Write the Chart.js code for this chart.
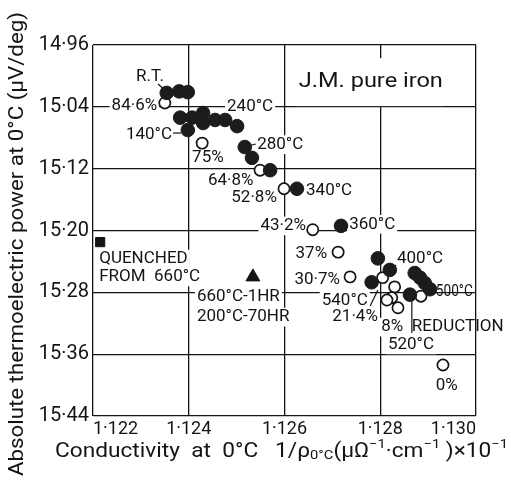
<!DOCTYPE html>
<html>
<head>
<meta charset="utf-8">
<script src="https://cdn.jsdelivr.net/npm/chart.js@4.4.1/dist/chart.umd.min.js"></script>
<style>
  html, body { margin: 0; padding: 0; background: #fff; }
</style>
</head>
<body>
<canvas id="plot" width="511" height="482"></canvas>
<script>
// Absolute thermoelectric power vs conductivity at 0°C - J.M. pure iron

const xTicks = [1.122, 1.124, 1.126, 1.128, 1.130];
const yTicks = [14.96, 15.04, 15.12, 15.20, 15.28, 15.36, 15.44];

// annealed at R.T. ... 540°C (filled circles)
const annealX = [1.12354, 1.12380, 1.12398,
                 1.12382, 1.12407, 1.12398, 1.12430, 1.12430, 1.12455, 1.12476, 1.12501,
                 1.12517, 1.12532, 1.12570,
                 1.12626, 1.12718,
                 1.12795, 1.12820, 1.12782,
                 1.12872, 1.12883, 1.12893, 1.12904, 1.12862];
const annealY = [15.022, 15.020, 15.021,
                 15.054, 15.054, 15.070, 15.048, 15.061, 15.057, 15.057, 15.065,
                 15.092, 15.106, 15.122,
                 15.146, 15.194,
                 15.236, 15.251, 15.267,
                 15.255, 15.261, 15.268, 15.276, 15.283];

// cold reduction 84.6% ... 0% (open circles)
const reducedX = [1.12350, 1.12428, 1.12549, 1.12599, 1.12659, 1.12712, 1.12737,
                  1.12805, 1.12830, 1.12824, 1.12814, 1.12837, 1.12885, 1.12931];
const reducedY = [15.035, 15.087, 15.122, 15.146, 15.199, 15.228, 15.260,
                  15.261, 15.273, 15.287, 15.290, 15.300, 15.285, 15.374];

// quenched from 660°C (square)
const quenchedX = [1.12215];
const quenchedY = [15.215];

// 660°C-1HR + 200°C-70HR (triangle)
const agedX = [1.12534];
const agedY = [15.260];

const FONT = 'Roboto, "DejaVu Sans", sans-serif';
const INK = '#141414';

const zip = (xs, ys) => xs.map((x, i) => ({ x: x, y: ys[i] }));
const dot = v => String(v).replace('.', '·');

// text notes, anchored in data units
const notes = [
  { text: 'R.T.', x: 1.12319, y: 15.001, align: 'center' },
  { text: '84·6%', x: 1.12334, y: 15.038, align: 'right' },
  { text: '240°C', x: 1.12480, y: 15.040 },
  { text: '140°C', x: 1.12365, y: 15.076, align: 'right' },
  { text: '75%', x: 1.12407, y: 15.106 },
  { text: '280°C', x: 1.12543, y: 15.089 },
  { text: '64·8%', x: 1.12440, y: 15.135 },
  { text: '52·8%', x: 1.12584, y: 15.158, align: 'right' },
  { text: '340°C', x: 1.12645, y: 15.148 },
  { text: '43·2%', x: 1.12645, y: 15.194, align: 'right' },
  { text: '360°C', x: 1.12735, y: 15.192 },
  { text: '37%', x: 1.12689, y: 15.230, align: 'right' },
  { text: '30·7%', x: 1.12716, y: 15.264, align: 'right' },
  { text: '400°C', x: 1.12835, y: 15.237 },
  { text: '500°C', x: 1.12916, y: 15.280, size: 16, width: 37, bg: false },
  { text: '540°C', x: 1.12774, y: 15.291, align: 'right' },
  { text: '21·4%', x: 1.12795, y: 15.312, align: 'right' },
  { text: '8%', x: 1.12802, y: 15.325 },
  { text: 'REDUCTION', x: 1.12866, y: 15.325, bg: false },
  { text: '520°C', x: 1.12816, y: 15.348 },
  { text: '0%', x: 1.12939, y: 15.401, align: 'center' },
  { text: 'QUENCHED', x: 1.12213, y: 15.237 },
  { text: 'FROM  660°C', x: 1.12213, y: 15.260 },
  { text: '660°C-1HR', x: 1.12417, y: 15.286 },
  { text: '200°C-70HR', x: 1.12417, y: 15.312 },
  { text: 'J.M. pure iron', x: 1.12630, y: 15.008, size: 20, width: 144, padY: 13 }
];

// short leader strokes
const leaders = [
  [1.12336, 15.0105, 1.12352, 15.0195],
  [1.12367, 15.0739, 1.12384, 15.0739],
  [1.12524, 15.0907, 1.12540, 15.0881],
  [1.12833, 15.2446, 1.12822, 15.2511],
  [1.12779, 15.2977, 1.12795, 15.2770],
  [1.12866, 15.2899, 1.12866, 15.3326]
];

function drawFitted(ctx, text, x, y, size, width, align) {
  ctx.font = size + 'px ' + FONT;
  const w = ctx.measureText(text).width;
  const sx = width ? width / w : 1;
  const ww = w * sx;
  const left = align === 'right' ? x - ww : align === 'center' ? x - ww / 2 : x;
  ctx.save();
  ctx.translate(left, y);
  ctx.scale(sx, 1);
  ctx.textAlign = 'left';
  ctx.fillText(text, 0, 0);
  ctx.restore();
  return { left: left, w: ww };
}

const notesPlugin = {
  id: 'notes',
  beforeDatasetsDraw(chart) {
    const ctx = chart.ctx;
    const sx = chart.scales.x, sy = chart.scales.y;
    ctx.save();
    ctx.textBaseline = 'middle';
    notes.forEach(n => {
      const size = n.size || 17;
      const px = sx.getPixelForValue(n.x), py = sy.getPixelForValue(n.y);
      ctx.font = size + 'px ' + FONT;
      const w = n.width || ctx.measureText(n.text).width;
      const left = n.align === 'right' ? px - w : n.align === 'center' ? px - w / 2 : px;
      if (n.bg !== false) {
        const padY = n.padY || 0;
        ctx.fillStyle = '#fff';
        ctx.fillRect(left - 2, py - size * 0.55 - padY, w + 4, size * 1.1 + padY * 2);
      }
      ctx.fillStyle = INK;
      drawFitted(ctx, n.text, px, py, size, n.width, n.align);
    });
    ctx.strokeStyle = INK;
    ctx.lineWidth = 1.2;
    leaders.forEach(l => {
      ctx.beginPath();
      ctx.moveTo(sx.getPixelForValue(l[0]), sy.getPixelForValue(l[1]));
      ctx.lineTo(sx.getPixelForValue(l[2]), sy.getPixelForValue(l[3]));
      ctx.stroke();
    });
    ctx.restore();
  },
  afterDraw(chart) {
    const ctx = chart.ctx;
    ctx.save();
    ctx.fillStyle = INK;
    ctx.textBaseline = 'middle';

    // y title, rotated
    ctx.save();
    ctx.translate(18, 244);
    ctx.rotate(-Math.PI / 2);
    drawFitted(ctx, 'Absolute thermoelectric power at 0°C (μV/deg)', 0, 0, 20, 464, 'center');
    ctx.restore();

    // x title with sub/superscripts
    const parts = [
      ['Conductivity  at  0°C   1/ρ', 0], ['0°C', 1], ['(μΩ', 0], ['−1', -1],
      ['·cm', 0], ['−1', -1], [' )×10', 0], ['−1', -1]
    ];
    const base = 20, small = 13;
    let total = 0;
    parts.forEach(p => {
      ctx.font = (p[1] ? small : base) + 'px ' + FONT;
      total += ctx.measureText(p[0]).width;
    });
    const k = 453 / total;
    ctx.translate(55, 452);
    ctx.scale(k, 1);
    let cx = 0;
    parts.forEach(p => {
      ctx.font = (p[1] ? small : base) + 'px ' + FONT;
      const dy = p[1] === 1 ? 4 : p[1] === -1 ? -7 : 0;
      ctx.fillText(p[0], cx, dy);
      cx += ctx.measureText(p[0]).width;
    });
    ctx.restore();
  }
};

const gridOpts = { color: INK, lineWidth: 1.3, drawTicks: false };

new Chart(document.getElementById('plot').getContext('2d'), {
  type: 'scatter',
  data: {
    datasets: [
      {
        label: 'annealed',
        data: zip(annealX, annealY),
        pointRadius: 6.8,
        backgroundColor: '#1c1c1c',
        borderColor: '#1c1c1c',
        borderWidth: 1,
        clip: false
      },
      {
        label: 'reduced',
        data: zip(reducedX, reducedY),
        pointRadius: 5.6,
        backgroundColor: '#fff',
        borderColor: INK,
        borderWidth: 1.7,
        clip: false
      },
      {
        label: 'quenched',
        data: zip(quenchedX, quenchedY),
        pointStyle: 'rect',
        pointRadius: 6.5,
        backgroundColor: INK,
        borderColor: INK,
        clip: false
      },
      {
        label: 'aged',
        data: zip(agedX, agedY),
        pointStyle: 'triangle',
        pointRadius: 8,
        backgroundColor: INK,
        borderColor: INK,
        clip: false
      }
    ]
  },
  options: {
    responsive: false,
    animation: false,
    devicePixelRatio: 1,
    layout: { padding: { top: 45, right: 35, left: 0, bottom: 0 } },
    plugins: { legend: { display: false }, tooltip: { enabled: false } },
    scales: {
      x: {
        type: 'linear',
        min: 1.122,
        max: 1.130,
        afterBuildTicks: s => { s.ticks = xTicks.map(v => ({ value: v })); },
        afterFit: s => { s.height = 66; },
        grid: gridOpts,
        border: { display: false },
        ticks: {
          align: 'inner',
          padding: 3,
          color: INK,
          font: { family: FONT, size: 18 },
          callback: v => dot(v.toFixed(3))
        }
      },
      y: {
        type: 'linear',
        reverse: true,
        min: 14.96,
        max: 15.44,
        afterBuildTicks: s => { s.ticks = yTicks.map(v => ({ value: v })); },
        afterFit: s => { s.width = 93; },
        grid: gridOpts,
        border: { display: false },
        ticks: {
          padding: 4,
          color: INK,
          font: { family: FONT, size: 20 },
          callback: v => dot(v.toFixed(2))
        }
      }
    }
  },
  plugins: [notesPlugin]
});
</script>
</body>
</html>
